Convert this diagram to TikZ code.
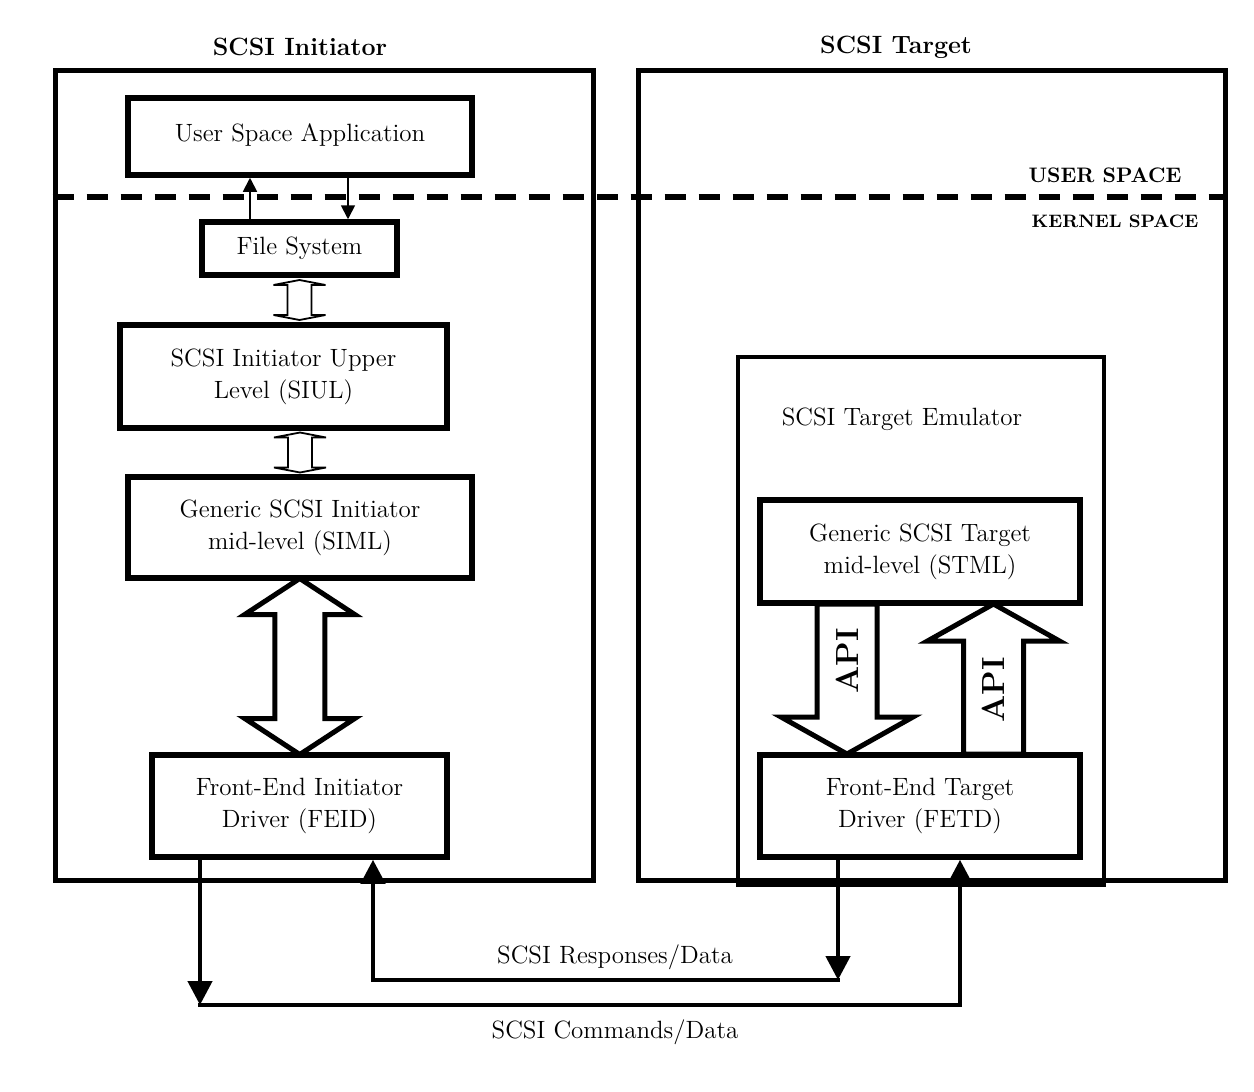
\documentclass[tikz,border=0pt]{standalone}
\usetikzlibrary{arrows.meta,calc,positioning}

\tikzset{
  blk/.style={draw, line width=2.75pt, align=center, inner sep=2pt, font=\fontsize{12.5}{16}\selectfont},
  outerbox/.style={draw, line width=2.5pt, inner sep=0pt},
  headlbl/.style={font=\fontsize{12.5}{15}\selectfont\bfseries},
  spacelbl/.style={font=\fontsize{10.5}{12}\selectfont\bfseries},
  lbl/.style={font=\fontsize{12.5}{15}\selectfont},
  apilbl/.style={font=\fontsize{16}{18}\selectfont\bfseries, rotate=90},
  fsarrow/.style={line width=0.9pt, -{Triangle[length=7pt,width=7pt]}},
  bus/.style={line width=2.25pt, line cap=rect, -{Triangle[length=12pt,width=12pt]}},
  divider/.style={line width=3pt, dash pattern=on 10.5pt off 6.5pt},
  smallarr/.pic={\draw[line width=0.9pt] (0,-20) -- (26,-15) -- (12,-15) -- (12,15) -- (26,15) -- (0,20)
      -- (-26,15) -- (-12,15) -- (-12,-15) -- (-26,-15) -- cycle;},
  bigarr/.pic={\draw[line width=2.5pt] (0,-88) -- (55,-52) -- (25,-52) -- (25,52) -- (55,52) -- (0,88)
      -- (-55,52) -- (-25,52) -- (-25,-52) -- (-55,-52) -- cycle;},
  apiarr/.pic={\draw[line width=2.5pt] (0,-75) -- (66,-38) -- (30,-38) -- (30,75) -- (-30,75)
      -- (-30,-38) -- (-66,-38) -- cycle;},
}

\begin{document}
\begin{tikzpicture}[x=0.5pt, y=-0.5pt]
      \useasboundingbox (0,0) rectangle (1254,1092);
      % \draw[very thin, gray, step=50] (0,0) grid (1254,1092);

      \node[outerbox, minimum width=269pt, minimum height=405pt] (init) at (324,475) {};
      \node[outerbox, minimum width=293.5pt, minimum height=405pt] (target) at (931.5,475) {};
      \node[headlbl] (initlbl) at (300,47) {SCSI Initiator};
      \node[headlbl] (tgtlbl) at (896,47) {SCSI Target};

      \coordinate (div) at (0,197);
      \draw[divider] (init.west |- div) -- (target.east |- div);
      \node[spacelbl] (userlbl) at (1105,175) {USER SPACE};
      \node[spacelbl, font=\fontsize{9}{11}\selectfont\bfseries] (kernlbl) at (1115,221) {KERNEL SPACE};

      % initiator stack
      \node[blk, minimum width=172pt, minimum height=38.5pt] (usa) at (300,136.5) {\raisebox{4pt}{User Space Application}};
      \node[blk, minimum width=97.5pt, minimum height=26.5pt] (fs) at (299.5,248.5) {File System};
      \node[blk, minimum width=163.5pt, minimum height=51.5pt] (siul) at (283.5,376.5) {SCSI Initiator Upper\\Level (SIUL)};
      \node[blk, minimum width=172pt, minimum height=50.5pt] (siml) at (300,527.5) {Generic SCSI Initiator\\mid-level (SIML)};
      \node[blk, minimum width=147.5pt, minimum height=51pt] (feid) at (299.5,806) {Front-End Initiator\\Driver (FEID)};

      \coordinate (fsup) at ([xshift=-24.75pt]fs.north);
      \coordinate (fsdown) at ([xshift=24.25pt]fs.north);
      \draw[fsarrow] (fsup) -- (fsup |- usa.south);
      \draw[fsarrow] (fsdown |- usa.south) -- (fsdown);

      \pic at ($(fs.south)!.5!(siul.north -| fs.south)$) {smallarr};
      \pic at ($(siul.south -| siml.north)!.5!(siml.north)$) {smallarr};
      \pic at ($(siml.south)!.5!(feid.north)$) {bigarr};

      % target side
      \node[outerbox, line width=2pt, minimum width=183pt, minimum height=264pt] (emul) at (921,621) {};
      \node[lbl] (emullbl) at (902,419) {SCSI Target Emulator};
      \node[blk, minimum width=160pt, minimum height=51.5pt] (stml) at (920,551.5) {Generic SCSI Target\\mid-level (STML)};
      \node[blk, minimum width=160pt, minimum height=51pt] (fetd) at (920,806) {Front-End Target\\Driver (FETD)};

      \pic[rotate=180] at ($(stml.south)!.5!(fetd.north)+(-73,0)$) {apiarr};
      \pic at ($(stml.south)!.5!(fetd.north)+(73.5,0)$) {apiarr};
      \node[apilbl] (apidown) at ($(stml.south)!.5!(fetd.north)+(-73,-18)$) {API};
      \node[apilbl] (apiup) at ($(stml.south)!.5!(fetd.north)+(73.5,11)$) {API};

      % responses and commands
      \coordinate (rspL) at (373,980);
      \coordinate (rspR) at (838,980);
      \draw[bus] (rspR |- fetd.south) -- (rspR);
      \draw[bus] (rspR) -- (rspL) -- (rspL |- feid.south);
      \node[lbl] (rsplbl) at (615,957) {SCSI Responses/Data};

      \coordinate (cmdL) at (200,1005);
      \coordinate (cmdR) at (960,1005);
      \draw[bus] (cmdL |- feid.south) -- (cmdL);
      \draw[bus] (cmdL) -- (cmdR) -- (cmdR |- fetd.south);
      \node[lbl] (cmdlbl) at (615,1032) {SCSI Commands/Data};
\end{tikzpicture}
\end{document}
